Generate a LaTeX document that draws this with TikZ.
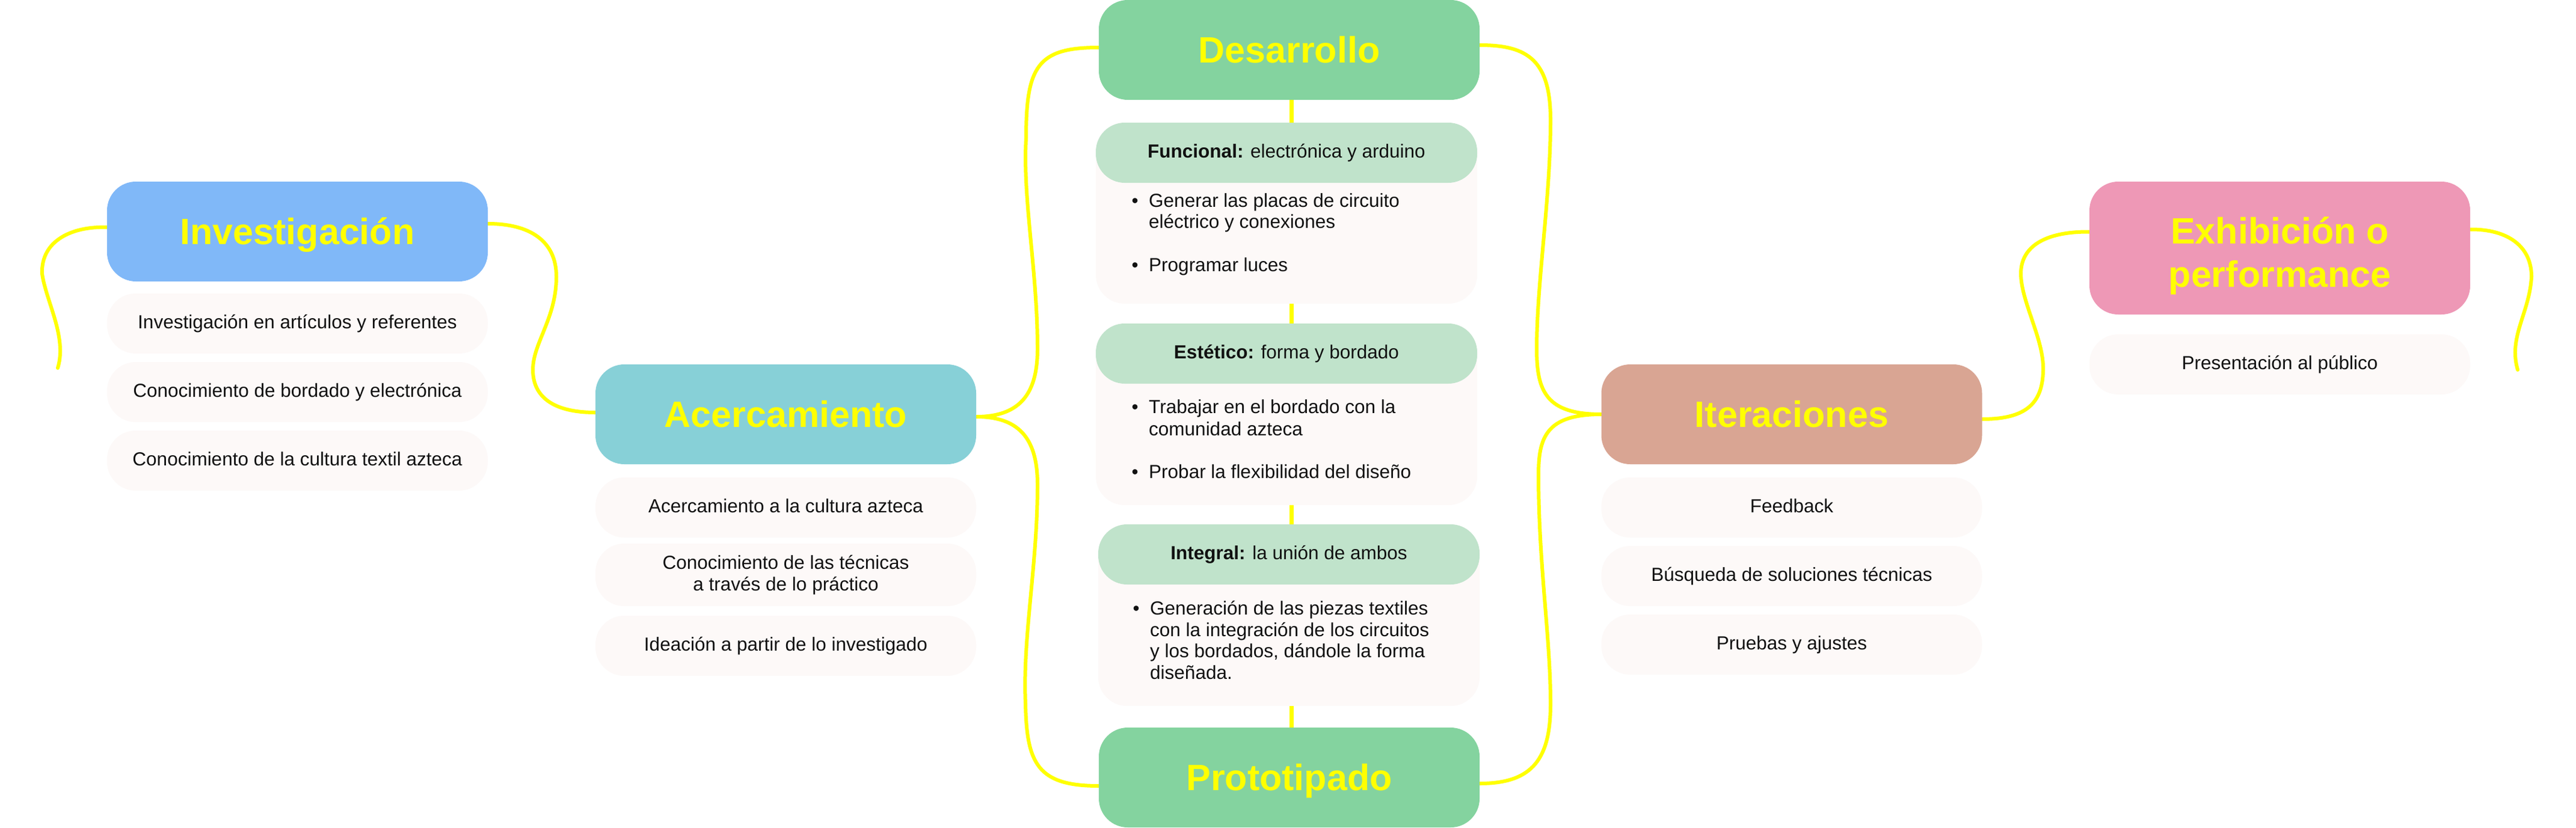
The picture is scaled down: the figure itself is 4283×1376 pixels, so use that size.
\documentclass[tikz,border=0pt]{standalone}
\usepackage{fontspec}
\setmainfont{Liberation Sans}
\usetikzlibrary{calc,backgrounds}
\definecolor{yel}{HTML}{FFFF00}
\definecolor{cInv}{HTML}{80B8F8}
\definecolor{cAce}{HTML}{87D0D7}
\definecolor{cDes}{HTML}{84D39F}
\definecolor{cCard}{HTML}{C0E3CB}
\definecolor{cSub}{HTML}{FDF9F8}
\definecolor{cIte}{HTML}{D9A593}
\definecolor{cExh}{HTML}{EE98B6}
\definecolor{ink}{HTML}{111111}
\begin{document}
\begin{tikzpicture}[x=1pt,y=-1pt,
  hdr/.style={rectangle,rounded corners=48pt,minimum width=633pt,minimum height=166pt,inner sep=0pt,text=yel,font=\fontsize{61}{72}\selectfont\bfseries},
  hdrone/.style={text height=43.7pt,text depth=0pt},
  subbox/.style={rectangle,rounded corners=48pt,fill=cSub,minimum width=633pt,minimum height=100pt,inner sep=0pt,text=ink,font=\fontsize{31.5}{36}\selectfont},
  onel/.style={text height=23.6pt,text depth=6.9pt},
  cardh/.style={rectangle,rounded corners=48pt,fill=cCard,minimum width=634pt,minimum height=100pt,inner sep=0pt,text=ink,font=\fontsize{31.5}{36}\selectfont,text height=23.6pt,text depth=6.9pt},
  cardb/.style={rectangle,rounded corners=48pt,fill=cSub,minimum width=634pt,inner sep=0pt},
  bline/.style={anchor=west,inner sep=0pt,text=ink,font=\fontsize{31.5}{36}\selectfont,text height=23.6pt,text depth=6.9pt},
  bulletmark/.style={inner sep=0pt,text=ink,font=\fontsize{31.5}{36}\selectfont,text height=23.6pt,text depth=6.9pt},
  link/.style={draw=yel,line width=6pt,line cap=round},
  stub/.style={draw=yel,line width=7pt}]
\useasboundingbox (0,0) rectangle (4283,1376);

% ---------- Investigacion
\node[hdr,hdrone,fill=cInv] (inv) at (494.5,385) {Investigación};
\node[subbox,onel] (inv1) at (494.5,538) {Investigación en artículos y referentes};
\node[subbox,onel] (inv2) at (494.5,652) {Conocimiento de bordado y electrónica};
\node[subbox,onel] (inv3) at (494.5,766) {Conocimiento de la cultura textil azteca};

% ---------- Acercamiento
\node[hdr,hdrone,fill=cAce] (acer) at (1306.5,689) {Acercamiento};
\node[subbox,onel] (ace1) at (1306.5,844) {Acercamiento a la cultura azteca};
\node[subbox,minimum height=104pt,align=center] (ace2) at (1306.5,956) {Conocimiento de las técnicas\\a través de lo práctico};
\node[subbox,onel] (ace3) at (1306.5,1074) {Ideación a partir de lo investigado};

% ---------- Desarrollo / Prototipado
\node[hdr,hdrone,fill=cDes] (des) at (2143.5,83) {Desarrollo};
\node[hdr,hdrone,fill=cDes] (proto) at (2143.5,1293) {Prototipado};

\node[cardb,minimum height=301pt] (funB) at (2139,354.5) {};
\node[cardh] (funH) at (2139,254) {\textbf{Funcional:} electrónica y arduino};
\node[bulletmark] (fb1) at (1887,336) {•};
\node[bline] (f1a) at (1910,336) {Generar las placas de circuito};
\node[bline] (f1b) at (1910,371) {eléctrico y conexiones};
\node[bulletmark] (fb2) at (1887,443) {•};
\node[bline] (f2a) at (1910,443) {Programar luces};

\node[cardb,minimum height=302pt] (estB) at (2139,689) {};
\node[cardh] (estH) at (2139,588) {\textbf{Estético:} forma y bordado};
\node[bulletmark] (eb1) at (1887,679) {•};
\node[bline] (e1a) at (1910,679) {Trabajar en el bordado con la};
\node[bline] (e1b) at (1910,716) {comunidad azteca};
\node[bulletmark] (eb2) at (1887,787) {•};
\node[bline] (e2a) at (1910,787) {Probar la flexibilidad del diseño};

\node[cardb,minimum height=302pt] (intB) at (2143,1023) {};
\node[cardh] (intH) at (2143,922) {\textbf{Integral:} la unión de ambos};
\node[bulletmark] (ib1) at (1889,1014) {•};
\node[bline] (i1a) at (1912,1014) {Generación de las piezas textiles};
\node[bline] (i1b) at (1912,1050) {con la integración de los circuitos};
\node[bline] (i1c) at (1912,1085) {y los bordados, dándole la forma};
\node[bline] (i1d) at (1912,1121) {diseñada.};

% ---------- Iteraciones
\node[hdr,hdrone,fill=cIte] (iter) at (2979,689) {Iteraciones};
\node[subbox,onel] (ite1) at (2979,844) {Feedback};
\node[subbox,onel] (ite2) at (2979,958) {Búsqueda de soluciones técnicas};
\node[subbox,onel] (ite3) at (2979,1072) {Pruebas y ajustes};

% ---------- Exhibicion
\node[hdr,minimum height=221pt,align=center,fill=cExh] (exh) at (3790.5,412.5) {\rule{0pt}{71pt}Exhibición o\\performance};
\node[subbox,onel] (exh1) at (3790.5,606) {Presentación al público};

\coordinate (invEnd) at (96,612);
\coordinate (exhEnd) at (4186,615);
\coordinate (sx) at (2147,0);

\begin{pgfonlayer}{background}
\fill[white] (0,0) rectangle (4283,1376);
% dangling left
\draw[link] ($(inv.west)+(0,-7)$) .. controls (120,376) and (68,400) .. (70,455)
  .. controls (76,500) and (112,560) .. (invEnd);
% Investigacion -> Acercamiento
\draw[link] ($(inv.east)+(0,-13)$) .. controls (880,372) and (925,400) .. (925,460)
  .. controls (925,530) and (886,570) .. (886,615)
  .. controls (886,660) and (920,686) .. ($(acer.west)+(0,-3)$);
% Acercamiento -> Desarrollo
\draw[link] ($(acer.east)+(0,4)$) .. controls (1700,693) and (1725,650) .. (1725,580)
  .. controls (1725,450) and (1700,330) .. (1706,230)
  .. controls (1706,110) and (1725,79) .. ($(des.west)+(0,-4)$);
% Acercamiento -> Prototipado
\draw[link] ($(acer.east)+(0,4)$) .. controls (1700,693) and (1725,736) .. (1725,806)
  .. controls (1725,940) and (1700,1060) .. (1705,1170)
  .. controls (1707,1270) and (1725,1307) .. ($(proto.west)+(0,14)$);
% Desarrollo -> Iteraciones
\draw[link] ($(des.east)+(0,-8)$) .. controls (2540,75) and (2578,100) .. (2578,200)
  .. controls (2578,330) and (2555,470) .. (2555,580)
  .. controls (2555,650) and (2570,689) .. (iter.west);
% Prototipado -> Iteraciones
\draw[link] (iter.west) .. controls (2570,689) and (2558,728) .. (2558,790)
  .. controls (2558,940) and (2578,1060) .. (2578,1170)
  .. controls (2578,1260) and (2550,1303) .. ($(proto.east)+(0,10)$);
% Iteraciones -> Exhibicion
\draw[link] ($(iter.east)+(0,8)$) .. controls (3370,697) and (3398,670) .. (3397,610)
  .. controls (3396,560) and (3360,500) .. (3360,455)
  .. controls (3360,410) and (3400,385) .. ($(exh.west)+(0,-27)$);
% dangling right
\draw[link] ($(exh.east)+(0,-31)$) .. controls (4170,381) and (4209,410) .. (4209,460)
  .. controls (4206,520) and (4170,560) .. (exhEnd);
% stubs in the Desarrollo column
\draw[stub] (des.south -| sx) -- (funH.north -| sx);
\draw[stub] (funB.south -| sx) -- (estH.north -| sx);
\draw[stub] (estB.south -| sx) -- (intH.north -| sx);
\draw[stub] (intB.south -| sx) -- (proto.north -| sx);
\end{pgfonlayer}
\end{tikzpicture}
\end{document}
